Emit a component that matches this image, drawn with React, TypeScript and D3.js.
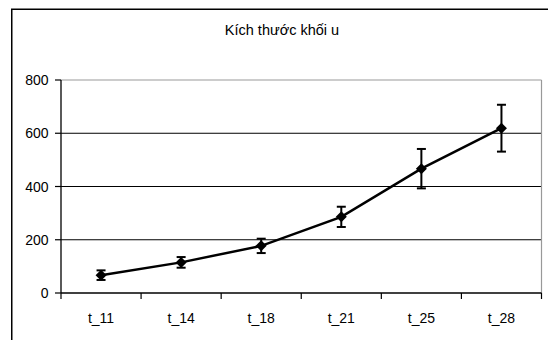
import React from "react";
import * as d3 from "d3";

const categories = ["t_11", "t_14", "t_18", "t_21", "t_25", "t_28"];
const means = [67, 115, 177, 286, 467, 619];
const errors = [18, 20, 27, 38, 74, 88];
const yTicks = [0, 200, 400, 600, 800];
const title = "Kích thước khối u";

const W = 548;
const H = 340;
const font = "'Liberation Sans', Arial, sans-serif";

export default function App() {
  const left = 61;
  const right = 541.5;
  const top = 80;
  const bottom = 293;

  const x = d3.scaleBand<string>().domain(categories).range([left, right]).padding(0);
  const y = d3.scaleLinear().domain([0, 800]).range([bottom, top]);

  const cx = (c: string) => (x(c) as number) + x.bandwidth() / 2;

  const line = d3
    .line<number>()
    .x((_, i) => cx(categories[i]))
    .y((d) => y(d));

  const boundaries = categories.map((c) => x(c) as number).concat([right]);

  return (
    <svg
      width={W}
      height={H}
      style={{ position: "absolute", left: 0, top: 0, background: "#fff" }}
    >
      <rect x={0} y={0} width={W} height={H} fill="#fff" />
      {/* outer chart frame (extends beyond view) */}
      <rect x={11.75} y={9.25} width={W + 20} height={H + 20} fill="none" stroke="#000" strokeWidth={1.5} />

      <text x={282} y={35} textAnchor="middle" fontFamily={font} fontSize={14.5} fill="#000">
        {title}
      </text>

      {/* gridlines */}
      {yTicks
        .filter((t) => t > 0 && t < 800)
        .map((t) => (
          <line key={t} x1={left} x2={right} y1={y(t)} y2={y(t)} stroke="#000" strokeWidth={1} />
        ))}
      {/* plot border top/right gray */}
      <line x1={left} x2={right} y1={y(800)} y2={y(800)} stroke="#999" strokeWidth={1.2} />
      <line x1={right} x2={right} y1={y(800)} y2={bottom} stroke="#999" strokeWidth={1.2} />

      {/* y axis */}
      <line x1={left} x2={left} y1={top} y2={bottom} stroke="#000" strokeWidth={1.3} />
      {yTicks.map((t) => (
        <g key={t}>
          <line x1={left - 6} x2={left} y1={y(t)} y2={y(t)} stroke="#000" strokeWidth={1.2} />
          <text
            x={left - 12.5}
            y={y(t)}
            dy="0.36em"
            textAnchor="end"
            fontFamily={font}
            fontSize={14}
            fill="#000"
          >
            {t}
          </text>
        </g>
      ))}

      {/* x axis */}
      <line x1={left} x2={right} y1={bottom} y2={bottom} stroke="#000" strokeWidth={1.5} />
      {boundaries.map((b, i) => (
        <line key={i} x1={b} x2={b} y1={bottom} y2={bottom + 6} stroke="#000" strokeWidth={1.2} />
      ))}
      {categories.map((c) => (
        <text key={c} x={cx(c)} y={323} textAnchor="middle" fontFamily={font} fontSize={14} fill="#000">
          {c}
        </text>
      ))}

      {/* series line */}
      <path d={line(means) || ""} fill="none" stroke="#000" strokeWidth={2.5} />

      {/* error bars */}
      {categories.map((c, i) => {
        const px = cx(c);
        const yt = y(means[i] + errors[i]);
        const yb = y(means[i] - errors[i]);
        return (
          <g key={c} stroke="#000" strokeWidth={2}>
            <line x1={px} x2={px} y1={yt} y2={yb} />
            <line x1={px - 4.5} x2={px + 4.5} y1={yt} y2={yt} />
            <line x1={px - 4.5} x2={px + 4.5} y1={yb} y2={yb} />
          </g>
        );
      })}

      {/* markers */}
      {categories.map((c, i) => {
        const px = cx(c);
        const py = y(means[i]);
        const s = 5.5;
        return (
          <path
            key={c}
            d={`M${px},${py - s}L${px + s},${py}L${px},${py + s}L${px - s},${py}Z`}
            fill="#000"
          />
        );
      })}
    </svg>
  );
}
